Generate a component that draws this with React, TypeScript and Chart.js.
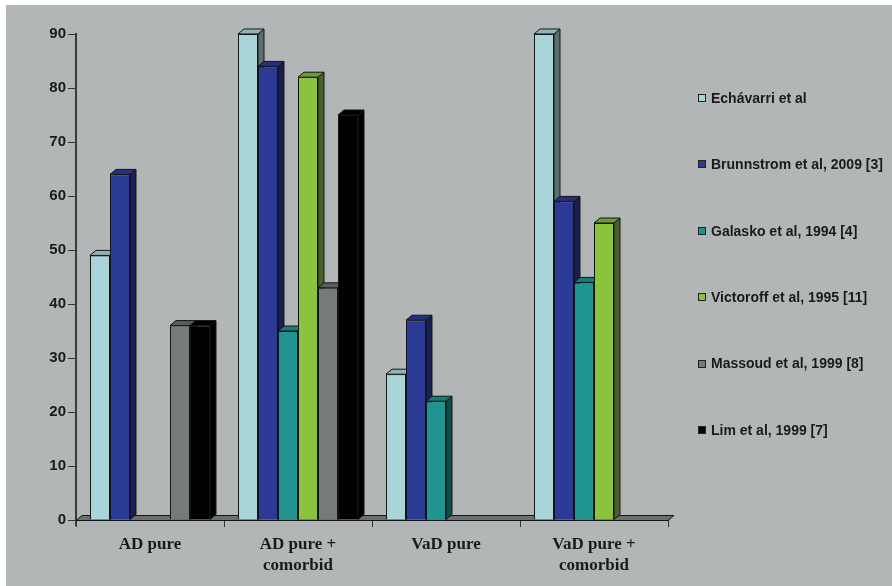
import React, { useEffect, useRef } from 'react';
import { Chart, registerables } from 'chart.js';

Chart.register(...registerables);

// Categories along the x axis (multi-line labels)
const categories: string[][] = [['AD pure'], ['AD pure +', 'comorbid'], ['VaD pure'], ['VaD pure +', 'comorbid']];

// One series per study
const seriesNames = [
  'Echávarri et al',
  'Brunnstrom et al, 2009 [3]',
  'Galasko et al, 1994 [4]',
  'Victoroff et al, 1995 [11]',
  'Massoud et al, 1999 [8]',
  'Lim et al, 1999 [7]',
];
const echavarri = [49, 90, 27, 90];
const brunnstrom = [64, 84, 37, 59];
const galasko = [null, 35, 22, 44];
const victoroff = [null, 82, null, 55];
const massoud = [36, 43, null, null];
const lim = [36, 75, null, null];

const yTicks = [0, 10, 20, 30, 40, 50, 60, 70, 80, 90];

// Face colours of the extruded columns
const frontColors = ['#A9D5DA', '#2B3A95', '#1F9490', '#8AC43F', '#777A7B', '#000000'];
const topColors = ['#8DB6B9', '#25307D', '#197B77', '#6E9B33', '#5A5D5E', '#000000'];
const sideColors = ['#5B6F71', '#1B1E50', '#0E4B49', '#48612A', '#3E4041', '#000000'];

const DEPTH_X = 6;
const DEPTH_Y = 5;
const EDGE = '#141414';

function poly(ctx: CanvasRenderingContext2D, pts: number[][], fill: string) {
  ctx.beginPath();
  ctx.moveTo(pts[0][0], pts[0][1]);
  for (let i = 1; i < pts.length; i++) ctx.lineTo(pts[i][0], pts[i][1]);
  ctx.closePath();
  ctx.fillStyle = fill;
  ctx.fill();
  ctx.strokeStyle = EDGE;
  ctx.lineWidth = 1;
  ctx.stroke();
}

// Floor slab plus the top and side faces of every column, drawn before the fronts
const depthPlugin = {
  id: 'depth3d',
  beforeDatasetsDraw(chart: any) {
    const ctx: CanvasRenderingContext2D = chart.ctx;
    const { left, right, bottom } = chart.chartArea;
    ctx.save();
    // y axis runs a few pixels past the floor
    ctx.strokeStyle = '#3a3a3a';
    ctx.lineWidth = 2;
    ctx.beginPath();
    ctx.moveTo(left, bottom);
    ctx.lineTo(left, bottom + 6);
    ctx.stroke();
    poly(
      ctx,
      [
        [left, bottom + 0.5],
        [right, bottom + 0.5],
        [right + DEPTH_X, bottom - DEPTH_Y + 0.5],
        [left + DEPTH_X, bottom - DEPTH_Y + 0.5],
      ],
      '#6C6F70'
    );
    const n = chart.data.labels.length;
    for (let c = 0; c < n; c++) {
      chart.data.datasets.forEach((ds: any, i: number) => {
        const v = ds.data[c];
        if (v === null || v === undefined) return;
        const el = chart.getDatasetMeta(i).data[c];
        const { x, y, base, width } = el.getProps(['x', 'y', 'base', 'width'], true);
        const l = x - width / 2;
        const r = x + width / 2;
        // side face
        poly(
          ctx,
          [
            [r, y],
            [r + DEPTH_X, y - DEPTH_Y],
            [r + DEPTH_X, base - DEPTH_Y],
            [r, base],
          ],
          sideColors[i]
        );
        // top face
        poly(
          ctx,
          [
            [l, y],
            [l + DEPTH_X, y - DEPTH_Y],
            [r + DEPTH_X, y - DEPTH_Y],
            [r, y],
          ],
          topColors[i]
        );
      });
    }
    ctx.restore();
  },
};

// Vertical legend on the right
const legendPlugin = {
  id: 'sideLegend',
  afterDraw(chart: any) {
    const ctx: CanvasRenderingContext2D = chart.ctx;
    ctx.save();
    ctx.font = 'bold 14px "Liberation Sans", Arial, sans-serif';
    ctx.textBaseline = 'middle';
    ctx.textAlign = 'left';
    chart.data.datasets.forEach((ds: any, i: number) => {
      const cy = 93 + i * 66.4;
      ctx.fillStyle = frontColors[i];
      ctx.fillRect(692.5, Math.round(cy) - 3.5, 7, 7);
      ctx.strokeStyle = '#222';
      ctx.lineWidth = 1;
      ctx.strokeRect(692.5, Math.round(cy) - 3.5, 7, 7);
      ctx.fillStyle = '#1a1a1a';
      ctx.fillText(ds.label, 705, cy + 1);
    });
    ctx.restore();
  },
};

export default function App() {
  const ref = useRef<HTMLCanvasElement | null>(null);

  useEffect(() => {
    if (!ref.current) return;
    const series = [echavarri, brunnstrom, galasko, victoroff, massoud, lim];
    const chart = new Chart(ref.current, {
      type: 'bar',
      data: {
        labels: categories,
        datasets: series.map((data, i) => ({
          label: seriesNames[i],
          data,
          backgroundColor: frontColors[i],
          borderColor: EDGE,
          borderWidth: 1,
          barPercentage: 1,
          categoryPercentage: 0.811,
        })),
      },
      options: {
        responsive: false,
        devicePixelRatio: 1,
        animation: false,
        events: [],
        layout: { padding: { left: 0, top: 29, right: 224, bottom: 0 } },
        plugins: {
          legend: { display: false },
          tooltip: { enabled: false },
        },
        scales: {
          x: {
            offset: true,
            afterFit: (s: any) => {
              s.height = 66;
            },
            border: { display: false },
            grid: {
              display: true,
              offset: true,
              drawOnChartArea: false,
              drawTicks: true,
              tickLength: 7,
              color: '#333',
              lineWidth: 1,
            },
            ticks: {
              color: '#1a1a1a',
              padding: 7,
              maxRotation: 0,
              font: { family: '"Liberation Serif", "Times New Roman", serif', weight: 'bold', size: 17, lineHeight: 1.25 },
            },
          },
          y: {
            min: 0,
            max: 90,
            afterFit: (s: any) => {
              s.width = 70;
            },
            afterBuildTicks: (s: any) => {
              s.ticks = yTicks.map((v) => ({ value: v }));
            },
            border: { display: true, color: '#3a3a3a', width: 2 },
            grid: {
              display: true,
              drawOnChartArea: false,
              drawTicks: true,
              tickLength: 8,
              color: '#333',
              lineWidth: 1,
            },
            ticks: {
              color: '#1a1a1a',
              padding: 2,
              font: { family: '"Liberation Sans", Arial, sans-serif', weight: 'bold', size: 15 },
            },
          },
        },
      },
      plugins: [depthPlugin, legendPlugin],
    });
    return () => chart.destroy();
  }, []);

  return (
    <div style={{ position: 'fixed', left: 0, top: 0, width: 892, height: 586, background: '#ffffff' }}>
      <div style={{ position: 'absolute', left: 6, top: 5, width: 886, height: 581, background: '#B3B6B7' }}>
        <canvas ref={ref} width={886} height={581} style={{ display: 'block' }} />
      </div>
    </div>
  );
}
